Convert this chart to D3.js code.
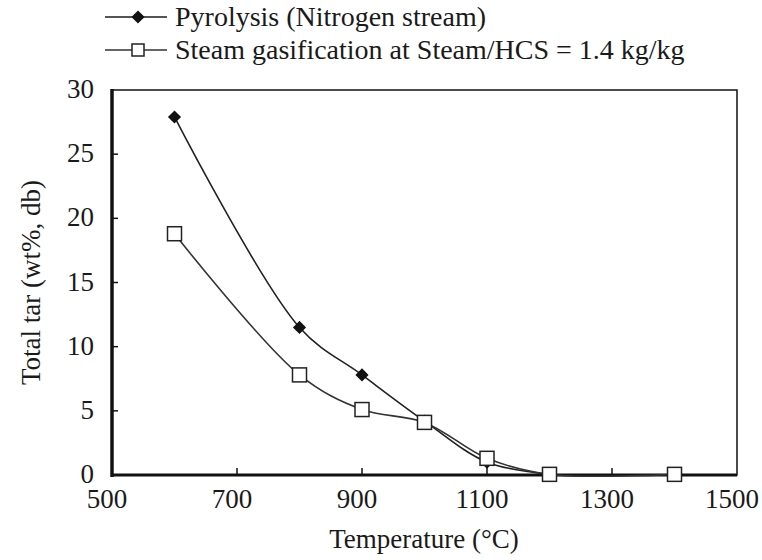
<!DOCTYPE html>
<html>
<head>
<meta charset="utf-8">
<script src="https://cdn.jsdelivr.net/npm/d3@7"></script>
<style>
  body { margin: 0; background: #fff; }
</style>
</head>
<body>
<svg id="chart"></svg>
<script>
// data
const temps = [600, 800, 900, 1000, 1100, 1200];
const pyrolysis = [27.9, 11.5, 7.8, 4.2, 1.0, 0.05];
const steamTemps = [600, 800, 900, 1000, 1100, 1200, 1400];
const steam = [18.8, 7.8, 5.1, 4.1, 1.3, 0.05, 0.05];
const xTicks = [500, 700, 900, 1100, 1300, 1500];
const yTicks = [0, 5, 10, 15, 20, 25, 30];
const seriesNames = ["Pyrolysis (Nitrogen stream)", "Steam gasification at Steam/HCS = 1.4 kg/kg"];

const width = 762, height = 560;
const margin = { top: 90, right: 25, bottom: 85, left: 112 };
const serif = "'Liberation Serif', 'Times New Roman', Times, 'DejaVu Serif', serif";

const svg = d3.select('#chart')
    .attr('width', width)
    .attr('height', height)
    .attr('font-family', serif)
    .style('font-family', serif);

const x = d3.scaleLinear().domain([500, 1500]).range([margin.left, width - margin.right]);
const y = d3.scaleLinear().domain([0, 30]).range([height - margin.bottom, margin.top]);

// frame
svg.append('rect')
    .attr('x', x(500)).attr('y', y(30))
    .attr('width', x(1500) - x(500)).attr('height', y(0) - y(30))
    .attr('fill', 'none').attr('stroke', '#111').attr('stroke-width', 1.5);

// inward ticks
svg.selectAll('.xt').data(xTicks.slice(1, -1)).enter().append('line')
    .attr('x1', d => x(d)).attr('x2', d => x(d))
    .attr('y1', y(0)).attr('y2', y(0) - 7)
    .attr('stroke', '#111').attr('stroke-width', 1.5);
svg.selectAll('.yt').data(yTicks.slice(1, -1)).enter().append('line')
    .attr('x1', x(500)).attr('x2', x(500) + 6)
    .attr('y1', d => y(d)).attr('y2', d => y(d))
    .attr('stroke', '#111').attr('stroke-width', 1.5);

// heavier left and bottom axes
svg.append('line').attr('x1', x(500)).attr('x2', x(500)).attr('y1', y(30) - 1).attr('y2', y(0) + 2)
    .attr('stroke', '#111').attr('stroke-width', 3.5);
svg.append('line').attr('x1', x(500) - 1).attr('x2', x(1500)).attr('y1', y(0)).attr('y2', y(0))
    .attr('stroke', '#111').attr('stroke-width', 3);

// tick labels
svg.selectAll('.xl').data(xTicks).enter().append('text')
    .attr('x', d => x(d) - 5).attr('y', y(0) + 33)
    .attr('text-anchor', 'middle').attr('font-size', 27).attr('fill', '#1a1a1a')
    .text(d => d);
svg.selectAll('.yl').data(yTicks).enter().append('text')
    .attr('x', x(500) - 18).attr('y', d => y(d) + 8)
    .attr('text-anchor', 'end').attr('font-size', 27).attr('fill', '#1a1a1a')
    .text(d => d);

// axis titles
svg.append('text')
    .attr('x', 424).attr('y', 548)
    .attr('text-anchor', 'middle').attr('font-size', 27).attr('fill', '#1a1a1a')
    .text('Temperature (°C)');
svg.append('text')
    .attr('transform', 'translate(40,' + ((y(0) + y(30)) / 2) + ') rotate(-90)')
    .attr('text-anchor', 'middle').attr('font-size', 27).attr('fill', '#1a1a1a')
    .text('Total tar (wt%, db)');

const line = d3.line()
    .x(d => x(d[0])).y(d => y(d[1]))
    .curve(d3.curveCatmullRom.alpha(0.5));

const pyroData = temps.map((t, i) => [t, pyrolysis[i]]);
const steamData = steamTemps.map((t, i) => [t, steam[i]]);

svg.append('path').datum(pyroData)
    .attr('fill', 'none').attr('stroke', '#222').attr('stroke-width', 1.6)
    .attr('d', line);
svg.append('path').datum(steamData)
    .attr('fill', 'none').attr('stroke', '#333').attr('stroke-width', 1.6)
    .attr('d', line);

const diamond = d3.symbol().type(d3.symbolDiamond2).size(110);

svg.selectAll('.pm').data(pyroData).enter().append('path')
    .attr('transform', d => 'translate(' + x(d[0]) + ',' + y(d[1]) + ')')
    .attr('d', diamond).attr('fill', '#111');
svg.selectAll('.sm').data(steamData).enter().append('rect')
    .attr('x', d => x(d[0]) - 7).attr('y', d => y(d[1]) - 7)
    .attr('width', 14).attr('height', 14)
    .attr('fill', '#fff').attr('stroke', '#222').attr('stroke-width', 1.5);

// legend
const legend = svg.append('g');
const rows = [17, 50];
legend.append('line').attr('x1', 105).attr('x2', 167).attr('y1', rows[0]).attr('y2', rows[0])
    .attr('stroke', '#555').attr('stroke-width', 1.8);
legend.append('path').attr('transform', 'translate(138,' + rows[0] + ')')
    .attr('d', diamond).attr('fill', '#111');
legend.append('line').attr('x1', 105).attr('x2', 167).attr('y1', rows[1]).attr('y2', rows[1])
    .attr('stroke', '#666').attr('stroke-width', 1.8);
legend.append('rect').attr('x', 132).attr('y', rows[1] - 6).attr('width', 12).attr('height', 12)
    .attr('fill', '#fff').attr('stroke', '#222').attr('stroke-width', 1.5);
legend.selectAll('.lt').data(seriesNames).enter().append('text')
    .attr('x', 175).attr('y', (d, i) => rows[i] + 9)
    .attr('font-size', 28).attr('fill', '#1a1a1a')
    .text(d => d);
</script>
</body>
</html>
